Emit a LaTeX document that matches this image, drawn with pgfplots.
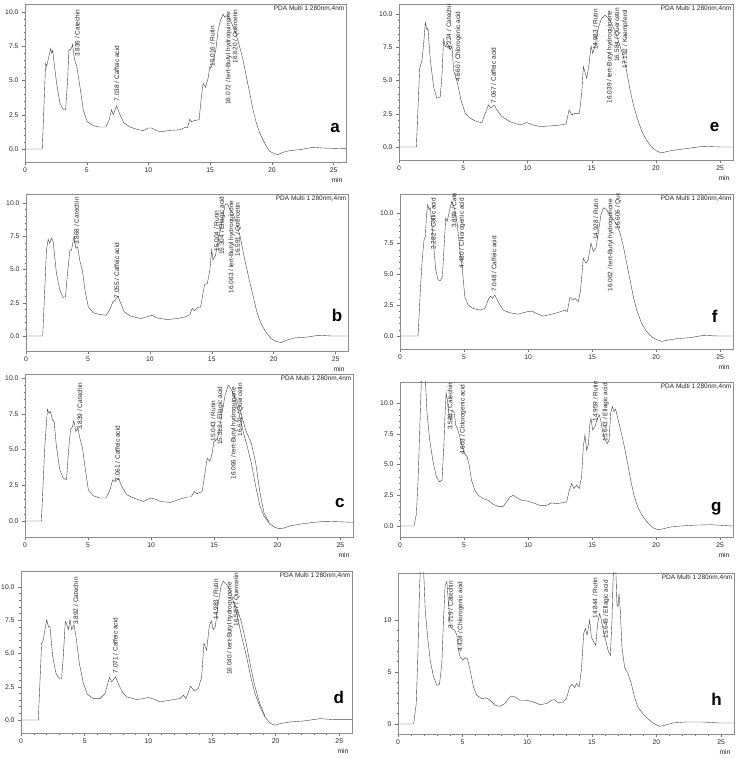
\documentclass[border=0pt]{standalone}
\usepackage{fontspec}
\setmainfont{Liberation Sans}
\usepackage{pgfplots}
\pgfplotsset{compat=1.18}

\pgfplotsset{
  chrom/.style={
    scale only axis, anchor=south west,
    xmin=0, xmax=26, xtick={0,5,...,25},
    ytick={0,2.5,...,10},
    minor x tick num=4, minor y tick num=4,
    tick align=outside, tick pos=left,
    major tick length=3pt, minor tick length=1.5pt,
    axis line style={black!45, line width=0.5pt},
    every tick/.style={black!55, line width=0.4pt},
    tick label style={font=\fontsize{6.8}{7}\selectfont, text=black!85},
    /pgf/number format/assume math mode=true,
    yticklabel style={/pgf/number format/.cd, fixed, fixed zerofill, precision=1},
    xticklabel style={yshift=1pt},
    clip=true,
  },
  trace/.style={black!75, line width=0.4pt, mark=none},
}
\tikzset{
  lbl/.style={rotate=90, anchor=north west, inner sep=0pt,
    font=\fontsize{6.5}{7}\selectfont, text=black!85},
  pda/.style={anchor=north east, inner sep=1.5pt,
    font=\fontsize{6.5}{7}\selectfont, text=black!85},
  letter/.style={anchor=base, font=\fontsize{17}{17}\selectfont\bfseries},
  minl/.style={anchor=east, font=\fontsize{6.8}{7}\selectfont, text=black!85},
}

\begin{document}
\begin{tikzpicture}
\useasboundingbox (0pt,0pt) rectangle (738pt,759pt);

% ---------------- a ----------------
\begin{axis}[chrom, at={(25pt,597pt)}, width=321pt, height=158pt, ymin=-0.95, ymax=10.58]
\addplot[trace] coordinates {
(0,0) (1.40,0) (1.67,6.25) (1.75,6.05) (1.9,6.6) (2.08,7.33) (2.16,7.0) (2.24,7.17)
(2.56,4.8) (2.83,3.34) (3.1,2.86) (3.29,2.86) (3.45,5.0) (3.56,7.26) (3.67,7.2)
(3.78,7.4) (3.85,7.63) (4.0,6.6) (4.1,6.25) (4.18,6.1) (4.45,4.55) (4.72,2.86)
(5.04,2.0) (5.53,1.7) (6.07,1.6) (6.55,1.6) (6.82,2.13) (7.01,2.86) (7.15,2.5)
(7.42,3.15) (7.69,2.5) (8.01,1.9) (8.5,1.6) (9.03,1.45) (9.57,1.33) (9.98,1.53)
(10.25,1.53) (10.65,1.33) (11.06,1.26) (11.73,1.36) (12.54,1.4) (13.03,1.6)
(13.16,1.55) (13.35,2.18) (13.48,2.0) (13.75,2.08) (14.1,2.13) (14.29,3.83)
(14.43,4.8) (14.62,4.5) (14.83,5.16) (14.97,6.0) (15.05,5.9) (15.24,6.37)
(15.45,7.2) (15.64,8.67) (15.83,9.4) (16.05,9.83) (16.18,9.6) (16.4,9.76)
(16.59,9.5) (16.86,8.9) (17.12,8.3) (17.39,7.46) (17.66,6.49) (17.93,5.28)
(18.2,4.07) (18.47,2.86) (18.74,1.89) (19.01,1.16) (19.28,0.68) (19.55,0.19)
(19.82,-0.17) (20.23,-0.36) (20.5,-0.41) (20.9,-0.24) (21.44,-0.12) (22.25,-0.05)
(23.33,0.12) (24.14,0.07) (26,0.02)
};
\node[lbl] at (axis cs:4.02,6.7) {3.836 / Catechin};
\node[lbl] at (axis cs:7.23,3.46) {7.038 / Caffeic acid};
\node[lbl] at (axis cs:14.97,6.0) {15.016 / Rutin};
\node[lbl] at (axis cs:16.24,3.22) {16.072 / tert-Butyl hydroquinone};
\node[lbl] at (axis cs:16.8,6.25) {16.620 / Quercetin};
\node[pda] at (rel axis cs:1,1) {PDA Multi 1 280nm,4nm};
\node[letter] at (rel axis cs:0.966,0.185) {a};
\end{axis}
\node[minl] at (346pt,579pt) {min};

% ---------------- b ----------------
\begin{axis}[chrom, at={(26pt,408pt)}, width=322pt, height=157pt, ymin=-1.13, ymax=10.68]
\addplot[trace] coordinates {
(0,0) (1.35,0) (1.65,6.47) (1.79,7.28) (1.92,6.98) (2.06,7.36) (2.19,7.1) (2.46,4.7)
(2.73,3.45) (3.0,2.9) (3.19,2.95) (3.35,4.7) (3.54,6.42) (3.68,6.47) (3.87,7.48)
(4.03,6.6) (4.17,6.7) (4.36,5.6) (4.55,4.96) (4.76,3.45) (5.03,2.19) (5.44,1.74)
(5.98,1.61) (6.47,1.56) (6.74,1.94) (7.01,2.57) (7.2,2.7) (7.41,3.0) (7.66,2.44)
(7.93,1.81) (8.41,1.51) (9.23,1.31) (9.77,1.44) (10.17,1.56) (10.58,1.36) (11.39,1.23)
(12.2,1.31) (12.88,1.44) (13.23,1.6) (13.42,2.07) (13.61,1.9) (13.83,2.14) (14.1,2.19)
(14.29,3.2) (14.42,3.88) (14.64,3.95) (14.85,4.96) (14.99,6.47) (15.1,5.72) (15.31,6.1)
(15.58,7.48) (15.85,8.74) (16.07,9.87) (16.26,9.95) (16.48,9.5) (16.72,9.24)
(16.99,8.49) (17.29,7.48) (17.61,5.97) (17.94,4.58) (18.29,3.2) (18.64,1.81)
(18.97,0.93) (19.37,0.3) (19.78,-0.2) (20.18,-0.4) (20.59,-0.5) (21.0,-0.33)
(21.67,-0.15) (22.75,-0.08) (23.57,0.05) (24.65,0) (26,0)
};
\node[lbl] at (axis cs:3.87,6.85) {3.868 / Catechin};
\node[lbl] at (axis cs:7.12,2.82) {7.055 / Caffeic acid};
\node[lbl] at (axis cs:15.18,6.35) {15.004 / Rutin};
\node[lbl] at (axis cs:15.58,6.1) {15.304 / Ellagic acid};
\node[lbl] at (axis cs:16.34,3.2) {16.063 / tert-Butyl hydroquinone};
\node[lbl] at (axis cs:16.88,5.97) {16.591 / Quercetin};
\node[pda] at (rel axis cs:1,1) {PDA Multi 1 280nm,4nm};
\node[letter] at (rel axis cs:0.966,0.19) {b};
\end{axis}
\node[minl] at (348pt,390pt) {min};

% ---------------- c ----------------
\begin{axis}[chrom, at={(25pt,222pt)}, width=328pt, height=163pt, ymin=-1.12, ymax=10.3]
\addplot[trace] coordinates {
(0,0) (1.3,0) (1.57,5.22) (1.78,7.83) (1.91,7.55) (2.02,7.66) (2.18,7.08) (2.31,6.96)
(2.49,5.22) (2.76,3.59) (3.03,3.0) (3.29,2.89) (3.48,5.22) (3.61,6.38) (3.77,6.62)
(3.87,7.03) (4.03,6.27) (4.19,6.5) (4.35,5.8) (4.56,5.1) (4.75,3.82) (5.02,2.19)
(5.41,1.77) (5.94,1.61) (6.42,1.61) (6.74,2.19) (6.95,2.89) (7.14,2.77) (7.4,3.0)
(7.67,2.42) (8.07,1.84) (8.6,1.61) (9.39,1.37) (9.93,1.61) (10.32,1.54) (10.72,1.37)
(11.52,1.3) (12.31,1.54) (12.85,1.68) (13.16,1.68) (13.43,2.07) (13.64,1.91)
(14.04,2.07) (14.23,3.12) (14.44,4.4) (14.65,4.17) (14.84,4.75) (14.97,5.57)
(15.18,5.68) (15.37,6.15) (15.63,7.66) (15.84,8.71) (16.11,9.53) (16.29,9.3)
(16.56,8.83) (16.82,8.0) (17.09,7.08) (17.36,6.03) (17.62,5.22) (17.94,4.05)
(18.29,2.42) (18.63,1.02) (18.95,0.33) (19.35,-0.14) (19.75,-0.42) (20.14,-0.54)
(20.54,-0.49) (21.07,-0.33) (21.87,-0.21) (22.93,-0.09) (23.86,-0.02) (26,-0.09)
};
\addplot[trace] coordinates {
(16.56,8.83) (16.82,8.4) (17.09,7.66) (17.49,6.38) (17.94,5.45) (18.29,4.05)
(18.63,1.96) (18.95,0.56) (19.35,-0.1)
};
\node[lbl] at (axis cs:4.14,6.38) {3.839 / Catechin};
\node[lbl] at (axis cs:7.14,2.77) {7.061 / Caffeic acid};
\node[lbl] at (axis cs:14.7,5.57) {15.043 / Rutin};
\node[lbl] at (axis cs:15.23,5.33) {15.312 / Ellagic acid};
\node[lbl] at (axis cs:16.3,2.89) {16.066 / tert-Butyl hydroquinone};
\node[lbl] at (axis cs:16.83,5.9) {16.621 / Quercetin};
\node[pda] at (rel axis cs:1,1) {PDA Multi 1 280nm,4nm};
\node[letter] at (rel axis cs:0.96,0.18) {c};
\end{axis}
\node[minl] at (353pt,204pt) {min};

% ---------------- d ----------------
\begin{axis}[chrom, at={(21pt,26pt)}, width=331pt, height=162pt, ymin=-0.98, ymax=11.2]
\addplot[trace] coordinates {
(0,0) (1.36,0) (1.62,5.77) (1.75,6.02) (1.88,6.78) (2.02,7.53) (2.15,7.03) (2.28,7.0)
(2.49,4.76) (2.75,3.5) (3.01,3.12) (3.19,3.12) (3.32,4.76) (3.48,7.41) (3.59,7.2)
(3.72,6.78) (3.85,7.56) (3.98,6.78) (4.16,7.15) (4.32,6.27) (4.58,4.26) (4.9,2.75)
(5.21,1.94) (5.68,1.61) (6.2,1.61) (6.6,1.99) (6.95,3.2) (7.13,2.85) (7.42,3.25)
(7.7,2.6) (8.0,2.04) (8.3,1.74) (9.08,1.54) (9.61,1.6) (10.0,1.69) (10.52,1.54)
(10.92,1.36) (11.7,1.49) (12.49,1.61) (12.75,1.86) (12.96,1.61) (13.32,2.54)
(13.59,2.19) (13.93,2.37) (14.19,3.25) (14.37,5.77) (14.58,5.26) (14.79,7.03)
(14.95,7.46) (15.1,6.78) (15.26,7.03) (15.5,8.79) (15.71,10.05) (15.89,10.43)
(16.15,10.18) (16.41,9.8) (16.68,8.92) (17.0,7.78) (17.33,6.27) (17.72,4.76)
(18.04,3.25) (18.38,1.99) (18.77,0.98) (19.16,0.23) (19.55,-0.23) (19.95,-0.4)
(20.34,-0.28) (21.13,-0.15) (22.17,-0.08) (23.48,0.1) (24.53,0.03) (26,0.03)
};
\addplot[trace] coordinates {
(16.68,8.92) (17.0,8.3) (17.33,7.3) (17.72,5.6) (18.04,4.0) (18.38,2.5) (18.77,1.2)
(19.16,0.3)
};
\node[lbl] at (axis cs:4.11,7.15) {3.892 / Catechin};
\node[lbl] at (axis cs:7.2,3.5) {7.071 / Caffeic acid};
\node[lbl] at (axis cs:15.1,7.53) {14.983 / Rutin};
\node[lbl] at (axis cs:16.15,3.38) {16.040 / tert-Butyl hydroquinone};
\node[lbl] at (axis cs:16.68,7.03) {16.587 / Quercetin};
\node[pda] at (rel axis cs:1,1) {PDA Multi 1 280nm,4nm};
\node[letter] at (rel axis cs:0.96,0.18) {d};
\end{axis}
\node[minl] at (352pt,8pt) {min};

% ---------------- e ----------------
\begin{axis}[chrom, at={(399pt,599pt)}, width=334pt, height=156pt, ymin=-0.98, ymax=10.75]
\addplot[trace] coordinates {
(0,0) (1.35,0) (1.61,5.91) (1.79,6.54) (1.92,7.79) (2.05,9.35) (2.18,8.8) (2.25,8.92)
(2.44,6.54) (2.69,4.54) (2.95,3.66) (3.21,3.78) (3.34,5.29) (3.47,8.1) (3.6,7.54)
(3.78,7.8) (3.99,7.3) (4.12,7.6) (4.25,5.79) (4.56,4.79) (4.82,3.53) (5.16,2.53)
(5.54,2.16) (6.06,1.9) (6.45,1.83) (6.71,2.53) (6.97,3.16) (7.15,2.91) (7.41,3.16)
(7.62,2.78) (8.01,2.28) (8.65,1.9) (9.43,1.65) (9.95,1.83) (10.47,1.65) (10.98,1.53)
(11.76,1.58) (12.54,1.65) (13.0,1.73) (13.24,2.78) (13.45,2.41) (13.7,2.53)
(14.04,2.53) (14.22,4.0) (14.35,6.04) (14.61,5.16) (14.79,6.2) (14.95,7.59)
(15.08,7.04) (15.26,7.6) (15.52,9.0) (15.78,9.7) (16.04,9.9) (16.22,9.75)
(16.42,9.55) (16.68,9.0) (16.94,8.4) (17.2,7.6) (17.46,6.8) (17.72,5.7) (17.98,4.3)
(18.24,3.2) (18.5,2.3) (18.89,1.2) (19.27,0.5) (19.66,0.0) (20.05,-0.3) (20.44,-0.45)
(20.83,-0.35) (21.35,-0.25) (22.38,-0.12) (23.68,0.05) (24.97,0.0) (26,0.0)
};
\node[lbl] at (axis cs:3.68,7.3) {4.224 / Catechin};
\node[lbl] at (axis cs:4.38,4.9) {4.660 / Chlorogenic acid};
\node[lbl] at (axis cs:7.15,3.28) {7.067 / Caffeic acid};
\node[lbl] at (axis cs:15.08,7.3) {14.983 / Rutin};
\node[lbl] at (axis cs:16.17,3.28) {16.039 / tert-Butyl hydroquinone};
\node[lbl] at (axis cs:16.76,6.4) {16.584 / Quercetin};
\node[lbl] at (axis cs:17.38,5.9) {17.192 / Kaempferol};
\node[pda] at (rel axis cs:1,1) {PDA Multi 1 280nm,4nm};
\node[letter] at (rel axis cs:0.945,0.18) {e};
\end{axis}
\node[minl] at (733pt,581pt) {min};

% ---------------- f ----------------
\begin{axis}[chrom, at={(400pt,410pt)}, width=333pt, height=155pt, ymin=-1.06, ymax=11.54]
\addplot[trace] coordinates {
(0,0) (1.41,0) (1.59,3.73) (1.75,6.46) (1.88,7.82) (1.98,8.09) (2.06,9.73) (2.16,10.68)
(2.27,10.27) (2.37,10.41) (2.48,9.18) (2.63,7.28) (2.79,5.37) (2.97,4.55) (3.15,4.5)
(3.31,4.82) (3.47,7.82) (3.57,9.59) (3.68,9.32) (3.83,10.0) (3.94,10.54) (4.04,10.95)
(4.14,10.68) (4.28,10.27) (4.46,9.18) (4.67,7.0) (4.87,5.37) (5.06,3.19) (5.32,2.51)
(5.71,2.23) (6.23,2.1) (6.62,2.23) (6.88,2.92) (7.06,3.24) (7.22,3.05) (7.4,3.32)
(7.66,2.78) (8.06,2.1) (8.58,1.88) (9.23,1.77) (9.88,1.96) (10.27,2.02) (10.66,1.83)
(11.18,1.61) (11.84,1.77) (12.49,1.96) (12.88,2.1) (13.06,1.98) (13.27,3.13)
(13.48,2.92) (13.66,3.05) (13.92,2.78) (14.1,3.73) (14.31,6.32) (14.52,5.91)
(14.7,6.19) (14.91,7.55) (15.09,6.87) (15.3,7.14) (15.48,8.37) (15.69,9.86)
(15.88,10.41) (16.14,10.27) (16.4,9.73) (16.66,9.46) (16.92,9.05) (17.18,8.37)
(17.44,7.28) (17.7,5.91) (17.96,4.55) (18.22,3.19) (18.48,2.1) (18.87,1.01)
(19.26,0.33) (19.66,-0.08) (20.05,-0.3) (20.44,-0.44) (20.83,-0.35) (21.61,-0.22)
(22.65,-0.14) (23.7,0.05) (24.74,0) (26,0)
};
\node[lbl] at (axis cs:2.4,7.0) {2.282 / Gallic acid};
\node[lbl] at (axis cs:4.01,8.77) {3.899 / Catechin};
\node[lbl] at (axis cs:4.61,5.5) {4.480 / Chlorogenic acid};
\node[lbl] at (axis cs:7.14,3.6) {7.048 / Caffeic acid};
\node[lbl] at (axis cs:15.09,7.8) {14.928 / Rutin};
\node[lbl] at (axis cs:16.19,3.6) {16.062 / tert-Butyl hydroquinone};
\node[lbl] at (axis cs:16.79,8.64) {16.606 / Quercetin};
\node[pda] at (rel axis cs:1,1) {PDA Multi 1 280nm,4nm};
\node[letter] at (rel axis cs:0.945,0.17) {f};
\end{axis}
\node[minl] at (733pt,392pt) {min};

% ---------------- g ----------------
\begin{axis}[chrom, at={(400pt,222pt)}, width=333pt, height=155pt, ymin=-0.89, ymax=11.7]
\addplot[trace] coordinates {
(0,0) (1.09,0) (1.28,1.0) (1.41,3.72) (1.54,7.8) (1.67,11.9) (1.82,14.5) (1.98,11.9)
(2.11,9.16) (2.32,6.98) (2.58,5.22) (2.84,4.0) (3.1,3.59) (3.28,3.72) (3.42,6.44)
(3.52,9.16) (3.6,10.8) (3.7,10.24) (3.83,8.89) (3.96,8.6) (4.09,9.38) (4.22,9.3)
(4.35,8.2) (4.48,7.93) (4.67,7.26) (4.87,6.44) (5.06,5.84) (5.24,5.63) (5.4,4.95)
(5.58,3.72) (5.84,2.91) (6.1,2.5) (6.49,2.23) (6.88,2.09) (7.27,1.77) (7.66,1.6)
(8.06,1.6) (8.32,1.96) (8.58,2.36) (8.84,2.5) (9.1,2.31) (9.49,2.09) (9.88,2.04)
(10.4,1.88) (10.92,1.68) (11.44,1.68) (11.84,1.88) (12.23,1.82) (12.62,1.88)
(13.01,1.96) (13.22,2.91) (13.4,3.45) (13.58,3.04) (13.79,3.32) (14.0,3.04)
(14.18,4.0) (14.31,6.44) (14.44,7.39) (14.57,6.17) (14.7,6.58) (14.83,8.34)
(14.91,8.75) (15.04,7.8) (15.22,8.07) (15.41,8.75) (15.56,9.02) (15.67,8.6)
(15.8,7.8) (16.01,6.98) (16.19,6.71) (16.32,6.98) (16.45,9.16) (16.58,9.7)
(16.71,9.3) (16.84,9.48) (17.0,8.75) (17.23,7.8) (17.49,6.58) (17.75,5.22)
(18.01,3.72) (18.27,2.5) (18.61,1.41) (19.0,0.73) (19.4,0.19) (19.79,-0.16)
(20.18,-0.3) (20.57,-0.22) (21.09,-0.08) (21.87,0.0) (23.18,0.08) (24.22,0.11) (26,0)
};
\node[lbl] at (axis cs:3.7,7.8) {3.528 / Catechin};
\node[lbl] at (axis cs:4.67,5.76) {4.603 / Chlorogenic acid};
\node[lbl] at (axis cs:15.04,8.48) {14.959 / Rutin};
\node[lbl] at (axis cs:15.8,6.85) {15.643 / Ellagic acid};
\node[pda] at (rel axis cs:1,1) {PDA Multi 1 280nm,4nm};
\node[letter] at (rel axis cs:0.95,0.165) {g};
\end{axis}
\node[minl] at (733pt,204pt) {min};

% ---------------- h ----------------
\begin{axis}[chrom, at={(398pt,25pt)}, width=336pt, height=161pt, ymin=-0.96, ymax=14.5,
  ytick={0,5,10}, yticklabel style={/pgf/number format/.cd, fixed, precision=0}]
\addplot[trace] coordinates {
(0,0) (1.21,0) (1.41,1.96) (1.54,6.76) (1.67,13.2) (1.85,18) (1.98,14.8) (2.11,10.9)
(2.29,8.37) (2.49,6.12) (2.75,4.52) (3.01,3.72) (3.21,3.81) (3.39,5.8) (3.52,9.97)
(3.65,13.33) (3.78,13.65) (3.91,11.57) (4.04,9.33) (4.16,9.17) (4.29,9.07) (4.42,8.94)
(4.55,8.53) (4.68,7.08) (4.81,6.44) (5.01,6.12) (5.19,6.38) (5.37,6.28) (5.58,5.16)
(5.84,3.56) (6.09,2.76) (6.48,2.44) (6.86,2.5) (7.12,2.28) (7.51,1.79) (7.89,1.7)
(8.28,1.96) (8.53,2.44) (8.79,2.69) (9.05,2.6) (9.43,2.28) (9.95,2.28) (10.46,2.12)
(10.98,1.86) (11.49,1.96) (11.88,2.28) (12.13,2.34) (12.39,2.02) (12.78,2.12)
(13.03,2.44) (13.29,3.56) (13.47,3.81) (13.68,3.49) (13.8,3.88) (14.01,3.56)
(14.19,5.16) (14.37,8.69) (14.5,9.17) (14.63,8.53) (14.83,9.97) (14.96,8.37)
(15.14,7.88) (15.3,7.56) (15.45,9.65) (15.6,10.61) (15.71,10.13) (15.86,9.17)
(16.07,8.04) (16.25,7.08) (16.43,6.6) (16.56,9.97) (16.63,13.5) (16.75,16.5)
(16.86,14.6) (16.94,11.57) (17.02,11.25) (17.1,12.53) (17.2,10.93) (17.33,7.4)
(17.53,5.48) (17.79,4.84) (18.05,3.88) (18.3,2.6) (18.56,1.63) (18.95,0.99)
(19.33,0.51) (19.72,0.1) (20.23,-0.22) (20.62,-0.13) (21.26,0.1) (22.29,0.19)
(23.57,0.19) (24.86,0.1) (26,0.1)
};
\node[lbl] at (axis cs:3.86,9.17) {3.719 / Catechin};
\node[lbl] at (axis cs:4.6,6.92) {4.424 / Chlorogenic acid};
\node[lbl] at (axis cs:15.04,10.13) {14.844 / Rutin};
\node[lbl] at (axis cs:15.86,8.2) {15.649 / Ellagic acid};
\node[pda] at (rel axis cs:1,1) {PDA Multi 1 280nm,4nm};
\node[letter] at (rel axis cs:0.948,0.175) {h};
\end{axis}
\node[minl] at (734pt,7pt) {min};

\end{tikzpicture}
\end{document}
